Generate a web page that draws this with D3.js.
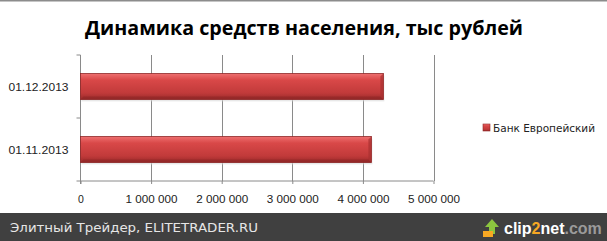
<!DOCTYPE html>
<html lang="ru">
<head>
  <meta charset="utf-8">
  <script src="https://d3js.org/d3.v7.min.js"></script>
  <style>
    body { margin: 0; background: #fff; }
    svg { display: block; font-family: "DejaVu Sans", sans-serif; }
    .tick text { fill: #222; font-size: 10.5px; }
    .grid line { stroke: #8a8a8a; }
  </style>
</head>
<body>
  <svg id="chart" width="607" height="241"></svg>
  <script>
    var title = "Динамика средств населения, тыс рублей";
    var seriesName = "Банк Европейский";
    var dates = ["01.11.2013", "01.12.2013"];
    var values = [4120000, 4290000];
    var xTicks = [0, 1000000, 2000000, 3000000, 4000000, 5000000];

    var svg = d3.select("#chart"),
        width = +svg.attr("width"),
        height = +svg.attr("height");

    var x = d3.scaleLinear().domain([0, 5000000]).range([80.5, 433.5]);
    // bottom category first, like excel
    var y = d3.scaleBand().domain(dates).range([181, 55]).paddingInner(0.59).paddingOuter(0.295);

    var defs = svg.append("defs");
    var grad = defs.append("linearGradient").attr("id", "barGrad")
        .attr("x1", 0).attr("y1", 0).attr("x2", 0).attr("y2", 1);
    grad.append("stop").attr("offset", "0%").attr("stop-color", "#ee7070");
    grad.append("stop").attr("offset", "25%").attr("stop-color", "#d94848");
    grad.append("stop").attr("offset", "75%").attr("stop-color", "#c13a3a");
    grad.append("stop").attr("offset", "100%").attr("stop-color", "#9a2a2a");

    // top border
    svg.append("rect").attr("x", 0).attr("y", 0).attr("width", width).attr("height", 1.5).attr("fill", "#8c8c8c");

    svg.append("text")
      .attr("x", 304).attr("y", 35)
      .attr("text-anchor", "middle")
      .attr("font-family", "'Open Sans', sans-serif")
      .attr("font-weight", "bold")
      .attr("font-size", 20)
      .attr("textLength", 438)
      .attr("lengthAdjust", "spacingAndGlyphs")
      .attr("fill", "#000")
      .text(title);

    // gridlines
    svg.append("g").attr("class", "grid")
      .selectAll("line").data(xTicks.slice(1)).enter().append("line")
        .attr("x1", function(d) { return Math.round(x(d)) + 0.5; })
        .attr("x2", function(d) { return Math.round(x(d)) + 0.5; })
        .attr("y1", 55).attr("y2", 181);

    // x axis
    var xAxis = svg.append("g")
      .attr("transform", "translate(0,181)")
      .call(d3.axisBottom(x).tickValues(xTicks).tickSize(3).tickPadding(12)
        .tickFormat(function(d) { return d3.format(",")(d).replace(/,/g, " "); }));
    xAxis.selectAll("line, path").attr("stroke", "#8a8a8a");
    xAxis.select(".domain").attr("d", "M80.5,0H433.5");
    xAxis.selectAll(".tick text").filter(function(d) { return d > 0; })
      .attr("textLength", 52).attr("lengthAdjust", "spacingAndGlyphs");

    // y axis
    var yAxis = svg.append("g")
      .attr("transform", "translate(80.5,0)")
      .call(d3.axisLeft(y).tickSize(0).tickPadding(12));
    yAxis.select(".domain").attr("stroke", "#8a8a8a").attr("d", "M0,55V184");
    yAxis.selectAll(".tick text").attr("dy", "0.4em")
      .style("font-size", "11px")
      .attr("textLength", 60).attr("lengthAdjust", "spacingAndGlyphs");
    yAxis.append("g").selectAll("line").data([55, 118, 181]).enter().append("line")
      .attr("x1", -4).attr("x2", 0).attr("y1", function(d) { return d; }).attr("y2", function(d) { return d; })
      .attr("stroke", "#8a8a8a");

    // bars
    var bars = svg.append("g").selectAll("g").data(values).enter().append("g");
    bars.append("rect")
      .attr("x", x(0) + 1)
      .attr("y", function(d, i) { return y(dates[i]) + 2; })
      .attr("width", function(d) { return x(d) - x(0); })
      .attr("height", y.bandwidth())
      .attr("fill", "#d8d8d8").attr("opacity", 0.6);
    bars.append("rect")
      .attr("x", x(0))
      .attr("y", function(d, i) { return y(dates[i]); })
      .attr("width", function(d) { return x(d) - x(0); })
      .attr("height", y.bandwidth())
      .attr("fill", "url(#barGrad)")
      .attr("stroke", "#8e2626").attr("stroke-width", 0.8);
    // bevel on right end
    bars.append("path")
      .attr("d", function(d, i) {
        var x1 = x(d), y0 = y(dates[i]), h = y.bandwidth();
        return "M" + (x1 - 3) + "," + (y0 + 3) + "L" + x1 + "," + y0 + "L" + x1 + "," + (y0 + h) +
          "L" + (x1 - 3) + "," + (y0 + h - 3) + "Z";
      })
      .attr("fill", "#a83030").attr("opacity", 0.7);
    bars.append("path")
      .attr("d", function(d, i) {
        var x1 = x(d), y0 = y(dates[i]), h = y.bandwidth();
        return "M" + x(0) + "," + (y0 + h) + "L" + (x(0) + 3) + "," + (y0 + h - 3) +
          "L" + (x1 - 3) + "," + (y0 + h - 3) + "L" + x1 + "," + (y0 + h) + "Z";
      })
      .attr("fill", "#8a2424").attr("opacity", 0.5);

    // legend
    var legend = svg.append("g").attr("transform", "translate(483,124)");
    legend.append("rect").attr("width", 7).attr("height", 7)
      .attr("fill", "url(#barGrad)").attr("stroke", "#8e2626").attr("stroke-width", 0.6);
    legend.append("text").attr("x", 10).attr("y", 7.5)
      .attr("font-size", 10.5).attr("fill", "#222")
      .attr("textLength", 102).attr("lengthAdjust", "spacingAndGlyphs")
      .text(seriesName);

    // footer band
    var foot = svg.append("g");
    foot.append("rect").attr("x", 0).attr("y", 213).attr("width", width).attr("height", 28).attr("fill", "#404040");
    foot.append("text").attr("x", 10).attr("y", 232)
      .attr("font-size", 13).attr("fill", "#e6e6e6")
      .attr("textLength", 248).attr("lengthAdjust", "spacingAndGlyphs")
      .text("Элитный Трейдер, ELITETRADER.RU");

    // clip2net logo
    var logo = foot.append("g").attr("transform", "translate(483,218)");
    logo.append("path").attr("d", "M2,9L9,1L16,9L12,9L12,16L6,16L6,9Z").attr("fill", "#8cc63f");
    logo.append("rect").attr("x", 0).attr("y", 13).attr("width", 10).attr("height", 6).attr("fill", "#f7a823");
    var lt = logo.append("text").attr("x", 21).attr("y", 16)
      .attr("font-family", "'Liberation Sans', Arial, sans-serif")
      .attr("font-weight", "bold").attr("font-size", 16).attr("fill", "#fff");
    lt.append("tspan").text("clip");
    lt.append("tspan").attr("fill", "#f7a823").text("2");
    lt.append("tspan").text("net");
    lt.append("tspan").attr("fill", "#9a9a9a").text(".com");
  </script>
</body>
</html>
